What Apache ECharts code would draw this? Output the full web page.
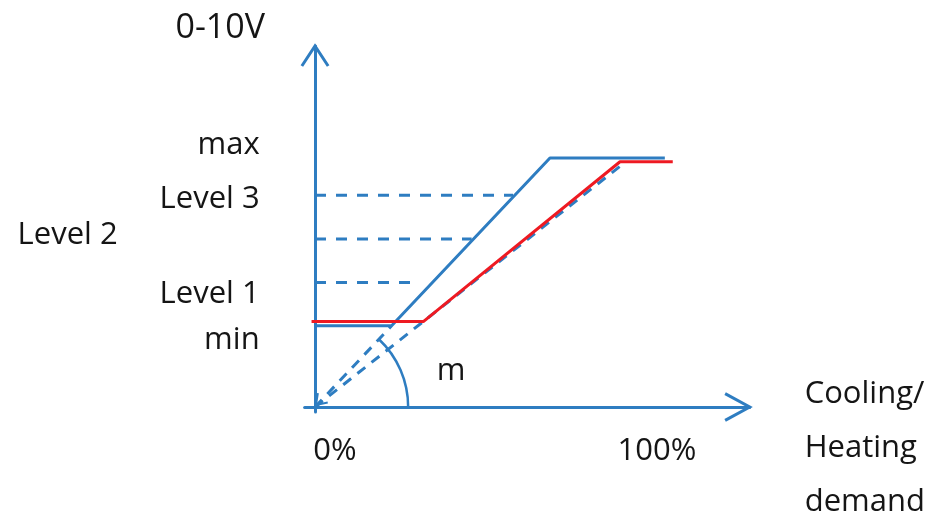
<!DOCTYPE html>
<html>
<head>
<meta charset="utf-8">
<script src="https://cdn.jsdelivr.net/npm/echarts@6/dist/echarts.min.js"></script>
<style>
html,body{margin:0;padding:0;background:#fff;}
#chart{width:935px;height:516px;}
</style>
</head>
<body>
<div id="chart"></div>
<script>
// ---- data ----
const levelNames  = ['min', 'Level 1', 'Level 2', 'Level 3', 'max'];
const levelValues = [3.26, 5.0, 6.75, 8.5, 10];
const levelGuideEnds = [30.4, 45.4, 57.4];          // x where dashed Level 1/2/3 guides stop
const xTickValues = [0, 100];
const xTickLabels = ['0%', '100%'];
const blueCurve  = [[0, 3.26], [22.2, 3.26], [68.1, 10], [101.4, 10]];
const redCurve   = [[-1, 3.43], [31.4, 3.43], [88.4, 9.85], [103.7, 9.85]];
const blueGuide  = [[0, 0], [22.2, 3.26]];
const redGuide   = [[0, 0], [88.9, 9.72]];
const arcEndX = 27;
const angleLabel = 'm';
const yAxisName = '0-10V';
const xAxisName = ['Cooling/', 'Heating', 'demand'];
const xMin = -3, xMax = 126, yMin = -0.2, yMax = 14.5;

// ---- styles ----
const BLUE = '#2E7DC1';
const RED = '#EE1A22';
const TXT = '#151515';
const FONT = "'Open Sans', sans-serif";
const FS = 31;

const chart = echarts.init(document.getElementById('chart'), null, {renderer: 'canvas'});

const richY = {
  n0: {padding: [28, 0, 0, 0]},
  n1: {padding: [24, 0, 0, 0]},
  n2: {padding: [0, 142, 8, 0]},
  n3: {padding: [8, 0, 0, 0]},
  n4: {padding: [0, 0, 26, 0]}
};
const richX = {
  x0: {padding: [0, 0, 0, 40]},
  x1: {padding: [0, 6, 0, 0]}
};

function levelLine(i) {
  return {
    type: 'line', symbol: 'none', silent: true, z: 2,
    data: [[0, levelValues[i]], [levelGuideEnds[i - 1], levelValues[i]]],
    lineStyle: {color: BLUE, width: 3, type: [11, 10]}
  };
}

function chevron(tip, dir, len, spread) {
  const pts = [];
  for (const s of [spread, -spread]) {
    const c = Math.cos(s), sn = Math.sin(s);
    const dx = dir[0] * c - dir[1] * sn, dy = dir[0] * sn + dir[1] * c;
    pts.push([tip[0] - len * dx, tip[1] - len * dy]);
  }
  return [pts[0], tip, pts[1]];
}

const option = {
  animation: false,
  backgroundColor: '#fff',
  textStyle: {fontFamily: FONT},
  grid: {left: 304.65, right: 185.3, top: 45.95, bottom: 104.02, containLabel: false, outerBoundsMode: 'none'},
  xAxis: {
    type: 'value', min: xMin, max: xMax,
    axisLine: {show: true, onZero: true, lineStyle: {color: BLUE, width: 3}},
    axisTick: {show: false},
    splitLine: {show: false},
    axisLabel: {
      show: true, customValues: xTickValues, margin: 21,
      color: TXT, fontSize: FS, fontFamily: FONT, lineHeight: 36,
      formatter: function (v) {
        const i = xTickValues.indexOf(v);
        return i < 0 ? '' : '{x' + i + '|' + xTickLabels[i] + '}';
      },
      rich: richX
    }
  },
  yAxis: {
    type: 'value', min: yMin, max: yMax,
    axisLine: {show: true, onZero: true, lineStyle: {color: BLUE, width: 3}},
    axisTick: {show: false},
    splitLine: {show: false},
    axisLabel: {
      show: true, customValues: levelValues, margin: 45,
      color: TXT, fontSize: FS, fontFamily: FONT,
      formatter: function (v) {
        const i = levelValues.indexOf(v);
        return i < 0 ? '' : '{n' + i + '|' + levelNames[i] + '}';
      },
      rich: richY
    },
    name: yAxisName, nameLocation: 'end', nameGap: 18,
    nameTextStyle: {color: TXT, fontSize: 34, fontFamily: FONT,
      align: 'right', verticalAlign: 'middle', padding: [0, 50, 0, 0]}
  },
  series: [
    levelLine(1), levelLine(2), levelLine(3),
    {
      type: 'line', symbol: 'none', silent: true, z: 2,
      data: blueGuide, lineStyle: {color: BLUE, width: 3, type: [10, 8]}
    },
    {
      type: 'line', symbol: 'none', silent: true, z: 2,
      data: redGuide, lineStyle: {color: BLUE, width: 3, type: [10, 8]}
    },
    {
      type: 'line', symbol: 'none', silent: true, z: 3,
      data: blueCurve, lineStyle: {color: BLUE, width: 3}
    },
    {
      type: 'line', symbol: 'none', silent: true, z: 4,
      data: redCurve, lineStyle: {color: RED, width: 3}
    },
    {
      // angle arc + label
      type: 'custom', silent: true, clip: false, z: 3,
      data: [[0, 0]],
      renderItem: function (params, api) {
        const c = api.coord([0, 0]);
        const e = api.coord([arcEndX, 0]);
        const k = api.coord(blueCurve[2]);
        const r = e[0] - c[0];
        const theta = Math.atan2(c[1] - k[1], k[0] - c[0]);
        return {
          type: 'group',
          children: [
            {type: 'arc', shape: {cx: c[0], cy: c[1], r: r, startAngle: -theta, endAngle: 0, clockwise: true},
             style: {stroke: BLUE, fill: 'none', lineWidth: 2.5}},
            {type: 'text', x: c[0] + 136, y: c[1] - 36,
             style: {text: angleLabel, fill: TXT, fontSize: FS, fontFamily: FONT, align: 'center', verticalAlign: 'middle'}}
          ]
        };
      }
    },
    {
      // x-axis name, placed beyond the end of the x axis
      type: 'custom', silent: true, clip: false, z: 3,
      data: [[xMax, 0]],
      renderItem: function (params, api) {
        const p = api.coord([xMax, 0]);
        return {type: 'text', x: p[0] + 55, y: p[1] - 14 - 26,
          style: {text: xAxisName.join('\n'), fill: TXT, fontSize: FS, fontFamily: FONT,
            lineHeight: 54, align: 'left', verticalAlign: 'top'}};
      }
    },
    {
      // axis arrowheads + small arrowhead at origin
      type: 'custom', silent: true, clip: false, z: 5,
      data: [[0, yMax, 0], [xMax, 0, 1], [0, 0, 2]],
      renderItem: function (params, api) {
        const t = api.value(2);
        const tip = api.coord([api.value(0), api.value(1)]);
        let pts;
        if (t === 0) {
          pts = chevron(tip, [0, -1], 24, 0.58);
        } else if (t === 1) {
          pts = chevron(tip, [1, 0], 28, 0.5);
        } else {
          const a = api.coord(blueGuide[1]);
          const dx = tip[0] - a[0], dy = tip[1] - a[1];
          const L = Math.hypot(dx, dy);
          pts = chevron([tip[0] + 1, tip[1] - 2], [dx / L, dy / L], 12, 0.6);
        }
        return {type: 'polyline', shape: {points: pts},
          style: {stroke: BLUE, fill: 'none', lineWidth: t === 2 ? 2 : 3, lineJoin: 'miter'}};
      }
    }
  ]
};
chart.setOption(option);
</script>
</body>
</html>
